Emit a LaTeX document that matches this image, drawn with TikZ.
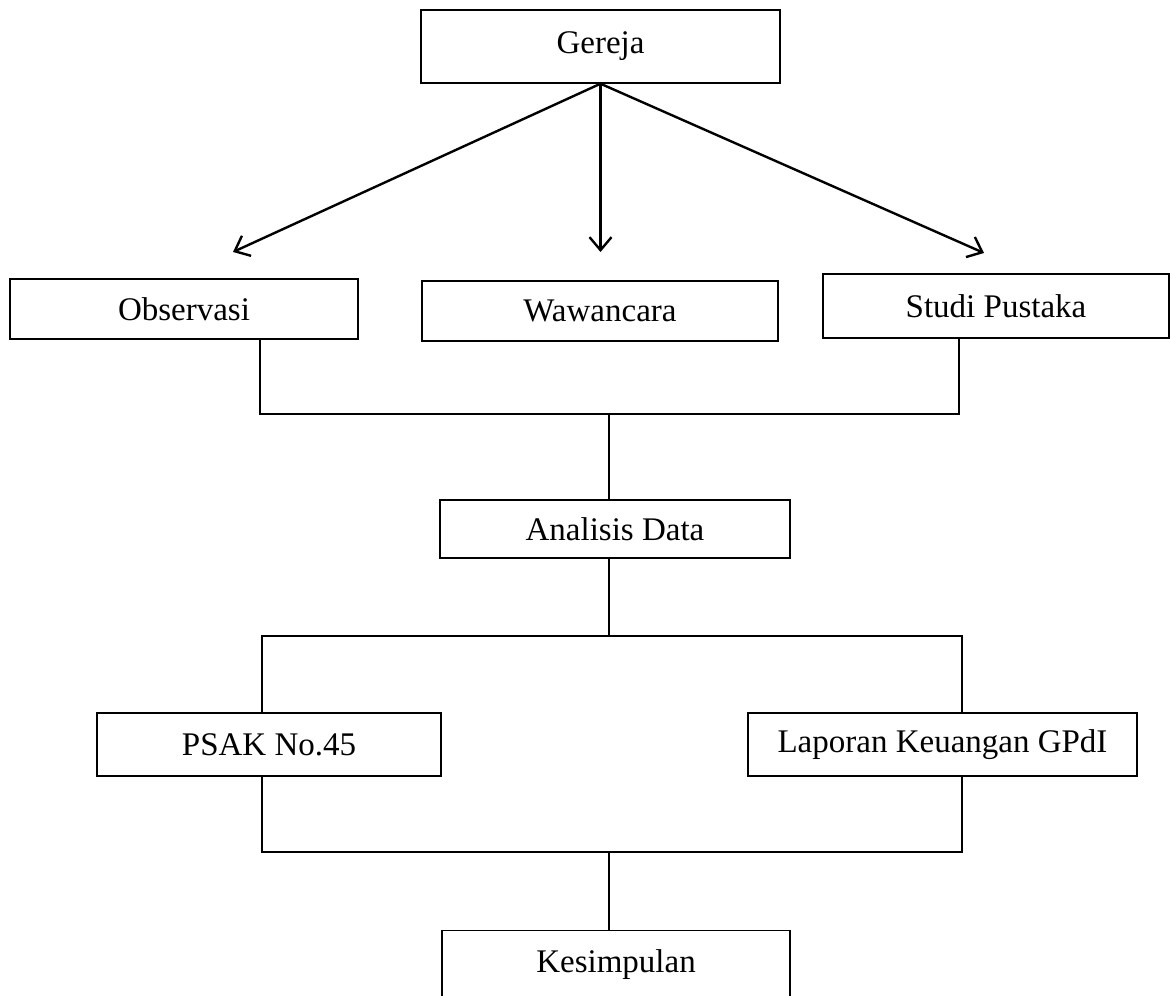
\documentclass[tikz,border=0pt]{standalone}
\usepackage{fontspec}
\setmainfont{Liberation Serif}
\usetikzlibrary{arrows.meta,positioning}

\begin{document}
\begin{tikzpicture}[x=0.5pt,y=-0.5pt,
            box/.style={draw,rectangle,line width=0.7pt,inner sep=0pt,align=center,
                        font=\fontsize{16.5}{20}\selectfont},
            link/.style={draw,line width=0.8pt},
            arr/.style={draw,line width=1.2pt,-{Straight Barb[length=6.5pt,width=11pt]}}
          ]
          \useasboundingbox (0,0) rectangle (1170,995);
          \clip (0,0) rectangle (1170,995);

          \node[box,minimum width=179.5pt,minimum height=36.5pt] (gereja) at (600.5,46.5) {Gereja};

          %metode
          \node[box,minimum width=174pt,minimum height=30pt] (obs) at (184,309) {Observasi};
          \node[box,minimum width=178pt,minimum height=30pt] (waw) at (600,311) {\raisebox{-1pt}{Wawancara}};
          \node[box,minimum width=173pt,minimum height=32pt] (studi) at (996,306) {Studi Pustaka};

          \node[box,minimum width=175pt,minimum height=29pt] (analisis) at (615,529) {Analisis Data};

          \node[box,minimum width=172pt,minimum height=31.5pt] (psak) at (269,744.5) {PSAK No.45};
          \node[box,minimum width=194.5pt,minimum height=31.5pt] (lap) at (942.5,744.5) {Laporan Keuangan GPdI};

          \node[box,minimum width=174pt,minimum height=34pt,anchor=north] (kes) at (616,930) {\raisebox{4pt}{Kesimpulan}};

          %arrows
          \coordinate (a1) at (233,252);
          \coordinate (a2) at (600.5,252);
          \coordinate (a3) at (984,253);
          \path[arr] (gereja.south) -- (a1);
          \path[arr] (gereja.south) -- (a2);
          \path[arr] (gereja.south) -- (a3);

          %joins
          \coordinate (j1) at (260,414);
          \coordinate (j2) at (959,414);
          \coordinate (j3) at (609,414);
          \path[link] (obs.south -| j1) -- (j1) -- (j2) -- (studi.south -| j2);
          \path[link] (j3) -- (analisis.north -| j3);

          \coordinate (k1) at (262,636);
          \coordinate (k2) at (962,636);
          \coordinate (k3) at (609,636);
          \path[link] (analisis.south -| k3) -- (k3);
          \path[link] (psak.north -| k1) -- (k1) -- (k2) -- (lap.north -| k2);

          \coordinate (m1) at (262,852);
          \coordinate (m2) at (962,852);
          \coordinate (m3) at (609,852);
          \path[link] (psak.south -| m1) -- (m1) -- (m2) -- (lap.south -| m2);
          \path[link] (m3) -- (kes.north -| m3);
      \end{tikzpicture}
\end{document}
